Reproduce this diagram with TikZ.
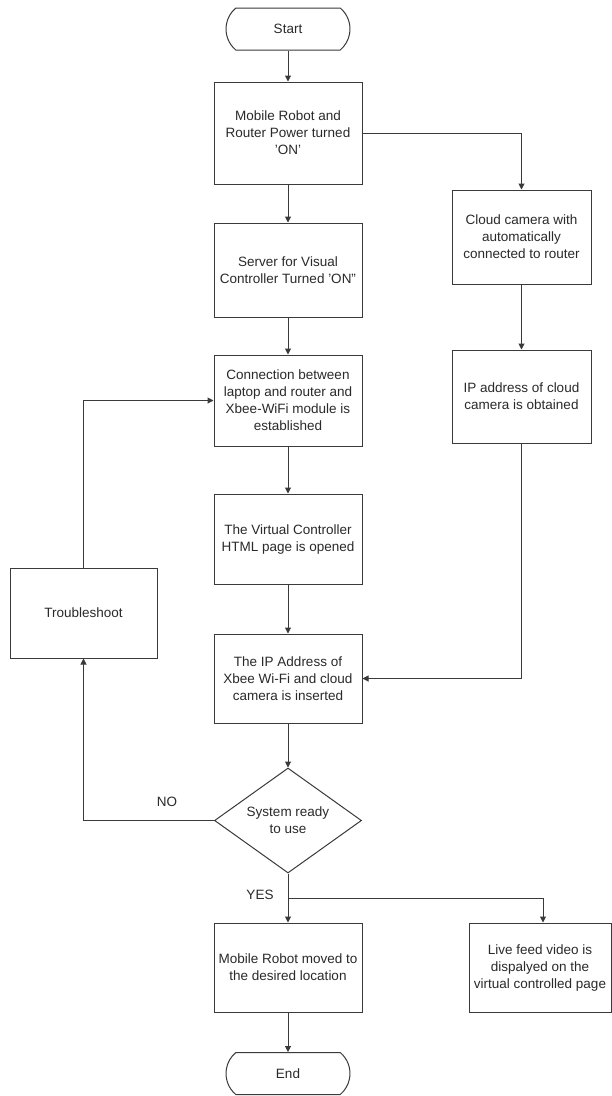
\documentclass[tikz,border=0pt]{standalone}
\usepackage{fontspec}
\setmainfont{Liberation Sans}
\usetikzlibrary{shapes.misc,shapes.geometric,arrows.meta}
\definecolor{ln}{HTML}{3A3A3A}
\definecolor{tx}{HTML}{2A2A2A}
\newcommand{\sq}{\symbol{39}}
\newcommand{\dq}{\symbol{34}}
\begin{document}
\begin{tikzpicture}[x=1pt,y=-1pt,
  every node/.style={font=\fontsize{13.5}{17}\selectfont, text=tx},
  proc/.style={draw=ln, line width=1pt, rectangle, align=center, inner sep=0pt},
  term/.style={draw=ln, line width=1pt, rounded rectangle, rounded rectangle arc length=100, minimum width=124, minimum height=42, inner sep=0pt},
  dec/.style={draw=ln, line width=1pt, diamond, aspect=1.4, minimum width=147, minimum height=105, inner sep=0pt, align=center},
  conn/.style={draw=ln, line width=1pt},
  arr/.style={conn, -{Triangle[width=6pt,length=6pt]}},
  lbl/.style={font=\fontsize{13.5}{17}\selectfont}
]
\fill[white] (0,0) rectangle (612,1096);
\useasboundingbox (0,0) rectangle (612,1096);

\node[term] (start) at (288,29) {Start};
\node[proc, minimum width=148, minimum height=102] (b1) at (288,133) {Mobile Robot and\\Router Power turned\\\sq ON\sq};
\node[proc, minimum width=148, minimum height=94] (b2) at (288,270) {Server for Visual\\Controller Turned \sq ON\dq};
\node[proc, minimum width=148, minimum height=91] (b3) at (288,400.5) {Connection between\\laptop and router and\\Xbee-WiFi module is\\established};
\node[proc, minimum width=148, minimum height=90] (b4) at (288,539) {The Virtual Controller\\HTML page is opened};
\node[proc, minimum width=148, minimum height=89] (b5) at (288,678.5) {The IP Address of\\Xbee Wi-Fi and cloud\\camera is inserted};
\node[dec] (d) at (288,820.5) {System ready\\to use};
\node[proc, minimum width=139, minimum height=94] (c1) at (521.5,237) {Cloud camera with\\automatically\\connected to router};
\node[proc, minimum width=139, minimum height=93] (c2) at (521.5,396.5) {IP address of cloud\\camera is obtained};
\node[proc, minimum width=147, minimum height=90] (t) at (83.5,613) {Troubleshoot};
\node[proc, minimum width=148, minimum height=89] (r) at (288,967.5) {Mobile Robot moved to\\the desired location};
\node[proc, minimum width=142, minimum height=89] (l) at (540,967.5) {Live feed video is\\dispalyed on the\\virtual controlled page};
\node[term] (end) at (288,1073.5) {End};

\draw[arr] (start.south) -- (b1.north);
\draw[arr] (b1.south) -- (b2.north);
\draw[arr] (b2.south) -- (b3.north);
\draw[arr] (b3.south) -- (b4.north);
\draw[arr] (b4.south) -- (b5.north);
\draw[arr] (b5.south) -- (d.north);
\draw[arr] (b1.east) -| (c1.north);
\draw[arr] (c1.south) -- (c2.north);
\draw[arr] (c2.south) |- (b5.east);
\draw[arr] (d.west) -| (t.south);
\draw[arr] (t.north) |- (b3.west);
\draw[arr] (d.south) -- (r.north);
\coordinate (yb) at (288,898);
\draw[arr] (yb) -| ([xshift=3pt]l.north);
\draw[arr] (r.south) -- (end.north);

\node[lbl] (no) at (167,802) {NO};
\node[lbl] (yes) at (260,895) {YES};
\end{tikzpicture}
\end{document}
